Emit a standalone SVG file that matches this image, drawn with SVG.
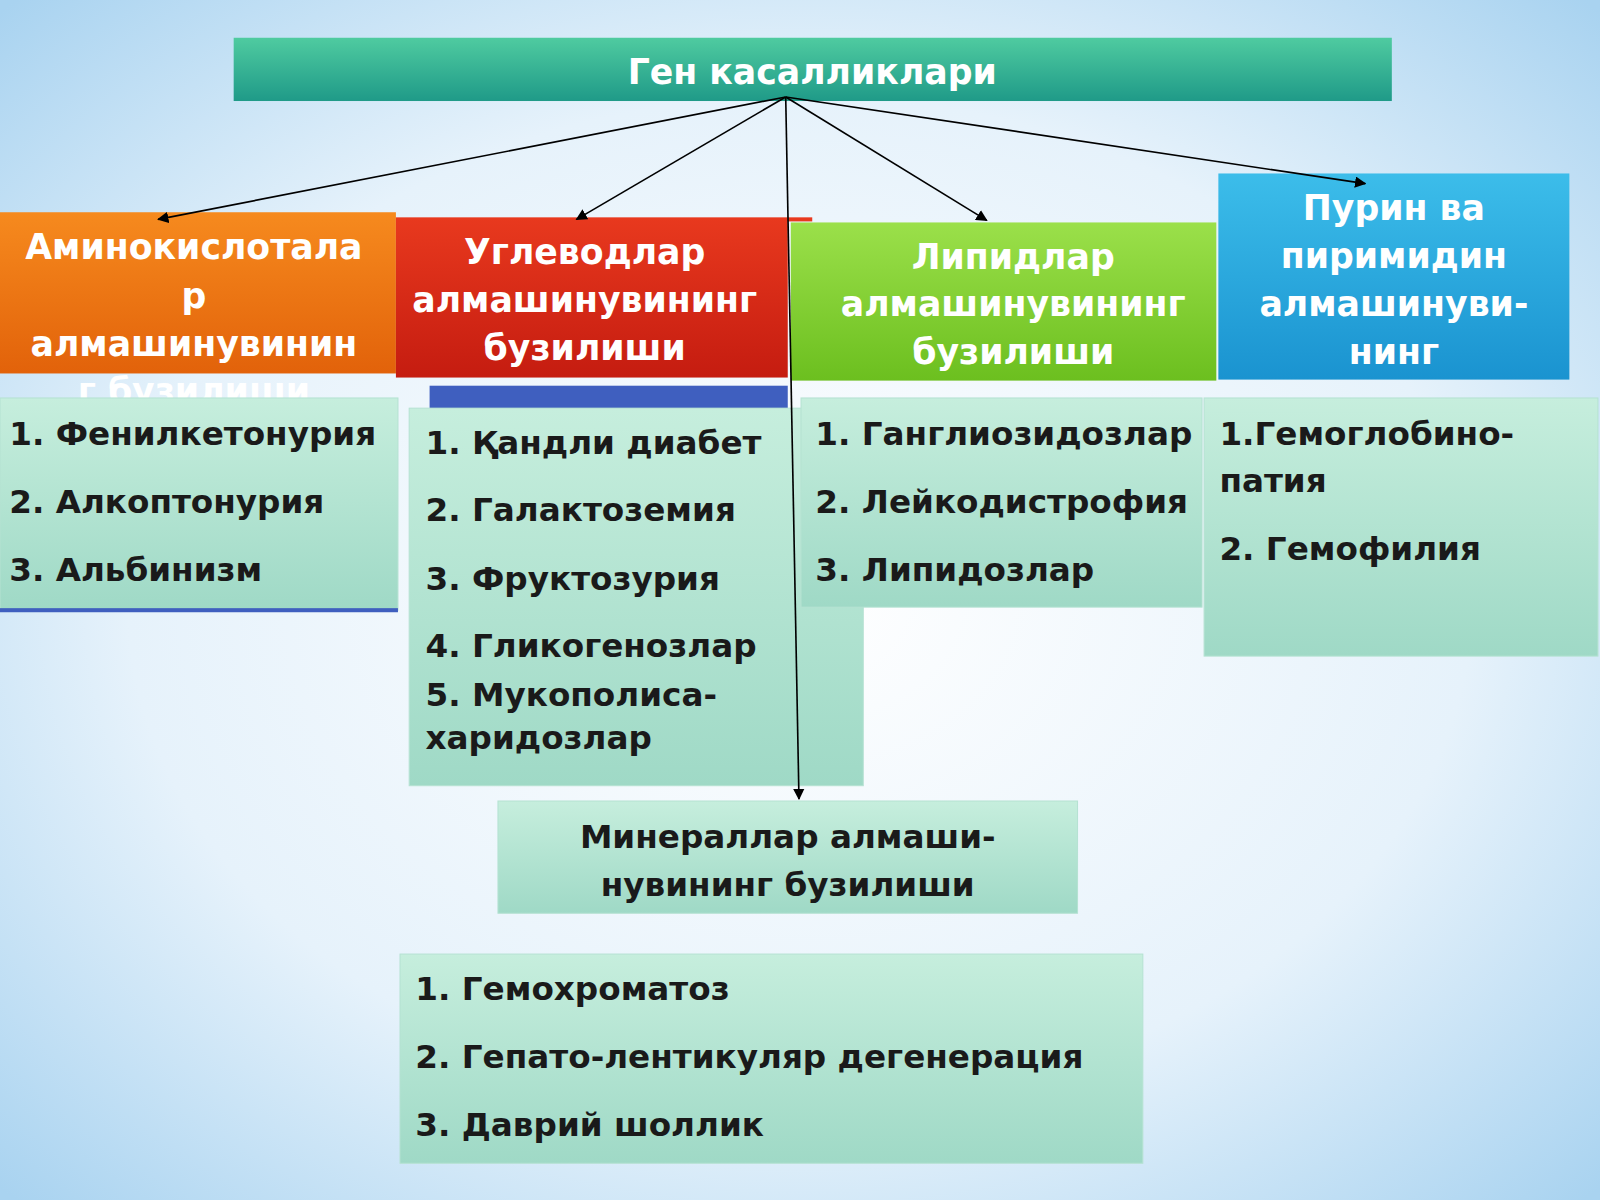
<svg xmlns="http://www.w3.org/2000/svg" width="1600" height="1200" viewBox="0 0 1600 1200">
<defs>
<radialGradient id="bg" cx="0.5" cy="0.5" r="0.7"><stop offset="0" stop-color="#ffffff"/><stop offset="0.6" stop-color="#e6f2fb"/><stop offset="1" stop-color="#a9d3f0"/></radialGradient>
<linearGradient id="teal" x1="0" y1="0" x2="0" y2="1"><stop offset="0" stop-color="#4fcba0"/><stop offset="1" stop-color="#1f9a88"/></linearGradient>
<linearGradient id="list" x1="0" y1="0" x2="0" y2="1"><stop offset="0" stop-color="#c6eedd"/><stop offset="1" stop-color="#9fd9c6"/></linearGradient>
<linearGradient id="org" x1="0" y1="0" x2="0" y2="1"><stop offset="0" stop-color="#f68a1e"/><stop offset="1" stop-color="#e2620a"/></linearGradient>
<linearGradient id="red" x1="0" y1="0" x2="0" y2="1"><stop offset="0" stop-color="#e8391e"/><stop offset="1" stop-color="#c51c10"/></linearGradient>
<linearGradient id="grn" x1="0" y1="0" x2="0" y2="1"><stop offset="0" stop-color="#9be04a"/><stop offset="1" stop-color="#6cbf1f"/></linearGradient>
<linearGradient id="blu" x1="0" y1="0" x2="0" y2="1"><stop offset="0" stop-color="#3cbdea"/><stop offset="1" stop-color="#1a93d0"/></linearGradient>
<marker id="ah" viewBox="0 0 10 10" refX="9" refY="5" markerWidth="7" markerHeight="7" orient="auto"><path d="M0,0 L10,5 L0,10 z" fill="#000"/></marker>
</defs>
<style>
.h{font-family:"DejaVu Sans",sans-serif;font-weight:bold;font-size:34px;fill:#fff;text-anchor:middle}
.t{font-family:"DejaVu Sans",sans-serif;font-weight:bold;font-size:32px;fill:#1a1a1a}
.lb{fill:url(#list);stroke:#b5e2d2;stroke-width:1}
.c{stroke:#000;stroke-width:1.6;fill:none;marker-end:url(#ah)}
</style>
<rect width="1600" height="1200" fill="url(#bg)"/>
<g transform="scale(1.0204)">
<g id="title"><rect x="229" y="37" width="1135" height="62" fill="url(#teal)"/><text class="h" x="796" y="82">Ген касалликлари</text></g>
<g id="amino"><rect x="0" y="208" width="388" height="158" fill="url(#org)"/><text class="h" x="190" y="254">Аминокислотала</text><text class="h" x="190" y="302">р</text><text class="h" x="190" y="349">алмашинувинин</text><text class="h" x="190" y="395">г бузилиши</text></g>
<g id="uglevod"><rect x="388" y="213" width="384" height="157" fill="url(#red)"/><rect x="772" y="213" width="24" height="4" fill="#e8391e"/><rect x="421" y="378" width="351" height="22" fill="#3f5fbf"/><text class="h" x="573" y="259">Углеводлар</text><text class="h" x="573" y="306">алмашинувининг</text><text class="h" x="573" y="353">бузилиши</text></g>
<g id="lipid"><rect x="775" y="218" width="417" height="155" fill="url(#grn)"/><text class="h" x="993" y="264">Липидлар</text><text class="h" x="993" y="310">алмашинувининг</text><text class="h" x="993" y="357">бузилиши</text></g>
<g id="purin"><rect x="1194" y="170" width="344" height="202" fill="url(#blu)"/><text class="h" x="1366" y="216">Пурин ва</text><text class="h" x="1366" y="263">пиримидин</text><text class="h" x="1366" y="310">алмашинуви-</text><text class="h" x="1366" y="357">нинг</text></g>
<g id="list1"><rect class="lb" x="0" y="390" width="390" height="208"/><rect x="0" y="596" width="390" height="4" fill="#3f5fbf"/><text class="t" x="9" y="436">1. Фенилкетонурия</text><text class="t" x="9" y="503">2. Алкоптонурия</text><text class="t" x="9" y="569">3. Альбинизм</text></g>
<g id="list2"><rect class="lb" x="401" y="400" width="445" height="370"/><text class="t" x="417" y="445">1. Қандли диабет</text><text class="t" x="417" y="511">2. Галактоземия</text><text class="t" x="417" y="578">3. Фруктозурия</text><text class="t" x="417" y="644">4. Гликогенозлар</text><text class="t" x="417" y="692">5. Мукополиса-</text><text class="t" x="417" y="734">харидозлар</text></g>
<g id="list3"><rect class="lb" x="785" y="390" width="393" height="205"/><text class="t" x="799" y="436">1. Ганглиозидозлар</text><text class="t" x="799" y="503">2. Лейкодистрофия</text><text class="t" x="799" y="569">3. Липидозлар</text></g>
<g id="list4"><rect class="lb" x="1180" y="390" width="386" height="253"/><text class="t" x="1195" y="436">1.Гемоглобино-</text><text class="t" x="1195" y="482">патия</text><text class="t" x="1195" y="549">2. Гемофилия</text></g>
<g id="mineral"><rect class="lb" x="488" y="785" width="568" height="110"/><text class="t" x="772" y="831" text-anchor="middle" font-size="34">Минераллар алмаши-</text><text class="t" x="772" y="878" text-anchor="middle" font-size="34">нувининг бузилиши</text></g>
<g id="list6"><rect class="lb" x="392" y="935" width="728" height="205"/><text class="t" x="407" y="980">1. Гемохроматоз</text><text class="t" x="407" y="1047">2. Гепато-лентикуляр дегенерация</text><text class="t" x="407" y="1113">3. Даврий шоллик</text></g>
<g id="connectors">
<line class="c" x1="770" y1="95" x2="155" y2="215"/>
<line class="c" x1="770" y1="95" x2="565" y2="215"/>
<line class="c" x1="770" y1="95" x2="967" y2="216"/>
<line class="c" x1="770" y1="95" x2="1338" y2="180"/>
<line class="c" x1="770" y1="95" x2="783" y2="783"/>
</g>
</g>
</svg>
